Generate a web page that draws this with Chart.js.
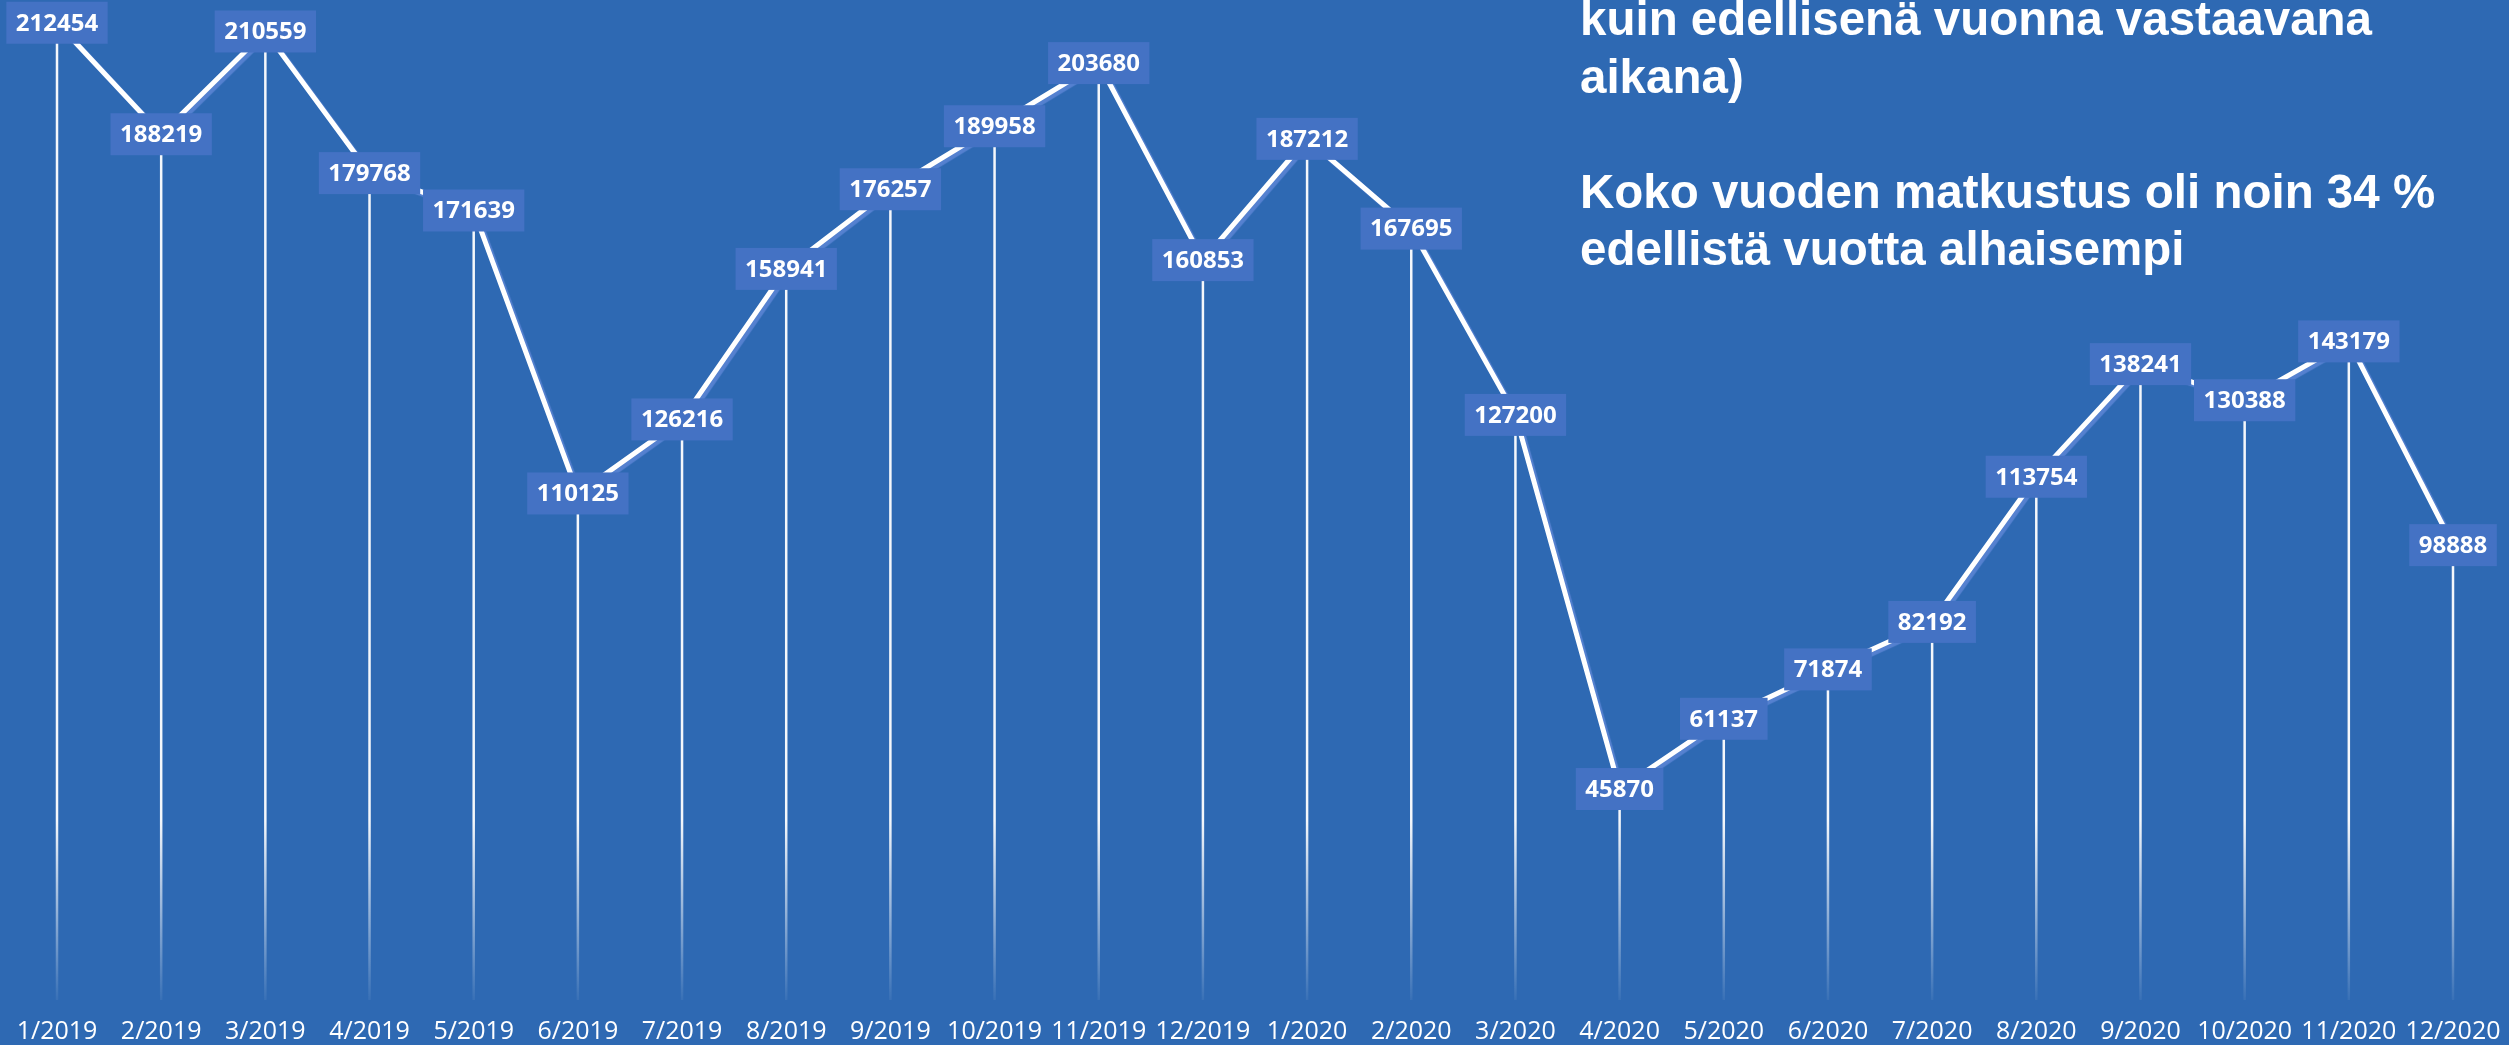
<!DOCTYPE html>
<html lang="fi">
<head>
  <meta charset="UTF-8">
  <title>Matkustajat kuukausittain 2019–2020</title>
  <script src="https://cdn.jsdelivr.net/npm/chart.js"></script>
  <style>
    html, body { margin: 0; padding: 0; overflow: hidden; background: #2E69B3; }
    .wrap { position: relative; width: 2509px; height: 1045px; }
    .note {
      position: absolute;
      left: 1580px;
      top: -10px;
      color: #fff;
      font-family: "Liberation Sans", Arial, sans-serif;
      font-weight: bold;
      font-size: 47.5px;
      line-height: 57.5px;
      white-space: pre;
    }
  </style>
</head>
<body>
  <div class="wrap">
    <canvas id="kaavio"></canvas>
    <div class="note">kuin edellisenä vuonna vastaavana
aikana)

Koko vuoden matkustus oli noin 34 %
edellistä vuotta alhaisempi</div>
  </div>

  <script>
    const kuukaudet = [
      "1/2019", "2/2019", "3/2019", "4/2019", "5/2019", "6/2019",
      "7/2019", "8/2019", "9/2019", "10/2019", "11/2019", "12/2019",
      "1/2020", "2/2020", "3/2020", "4/2020", "5/2020", "6/2020",
      "7/2020", "8/2020", "9/2020", "10/2020", "11/2020", "12/2020"
    ];
    const matkustajat = [
      212454, 188219, 210559, 179768, 171639, 110125,
      126216, 158941, 176257, 189958, 203680, 160853,
      187212, 167695, 127200, 45870, 61137, 71874,
      82192, 113754, 138241, 130388, 143179, 98888
    ];
    const yMin = 0;
    const yMax = 217400;

    // pystyviivat pisteistä alas (Excelin "drop lines")
    const pudotusviivat = {
      id: "pudotusviivat",
      beforeDatasetsDraw(chart) {
        const ctx = chart.ctx;
        const meta = chart.getDatasetMeta(0);
        const pohja = chart.scales.y.getPixelForValue(0);
        const grad = ctx.createLinearGradient(0, pohja - 180, 0, pohja);
        grad.addColorStop(0, "rgba(255,255,255,0.95)");
        grad.addColorStop(1, "rgba(255,255,255,0.05)");
        ctx.save();
        ctx.strokeStyle = grad;
        ctx.lineWidth = 2.5;
        meta.data.forEach(p => {
          ctx.beginPath();
          ctx.moveTo(p.x, p.y);
          ctx.lineTo(p.x, pohja);
          ctx.stroke();
        });
        ctx.restore();
      }
    };

    // viivan varjo
    const varjo = {
      id: "varjo",
      beforeDatasetDraw(chart) {
        const ctx = chart.ctx;
        ctx.save();
        ctx.shadowColor = "rgba(95,135,215,0.8)";
        ctx.shadowOffsetX = 3;
        ctx.shadowOffsetY = 3;
        ctx.shadowBlur = 1;
      },
      afterDatasetDraw(chart) {
        chart.ctx.restore();
      }
    };

    // arvolaatikot
    const arvot = {
      id: "arvot",
      afterDatasetsDraw(chart) {
        const ctx = chart.ctx;
        const meta = chart.getDatasetMeta(0);
        ctx.save();
        ctx.font = "bold 24px 'Open Sans', sans-serif";
        ctx.textAlign = "center";
        ctx.textBaseline = "middle";
        meta.data.forEach((p, i) => {
          const teksti = String(matkustajat[i]);
          const w = ctx.measureText(teksti).width + 19;
          const h = 42;
          ctx.fillStyle = "#4472C4";
          ctx.fillRect(p.x - w / 2, p.y - h / 2, w, h);
          ctx.fillStyle = "#ffffff";
          ctx.fillText(teksti, p.x, p.y + 1);
        });
        ctx.restore();
      }
    };

    new Chart(document.getElementById("kaavio"), {
      type: "line",
      data: {
        labels: kuukaudet,
        datasets: [{
          data: matkustajat,
          borderColor: "#ffffff",
          borderWidth: 5,
          pointRadius: 0,
          tension: 0,
          fill: false
        }]
      },
      options: {
        responsive: true,
        maintainAspectRatio: false,
        animation: false,
        layout: { padding: { left: 57, right: 56, top: 0, bottom: 0 } },
        plugins: {
          legend: { display: false },
          tooltip: { enabled: false }
        },
        scales: {
          x: {
            offset: false,
            grid: { display: false, drawTicks: false },
            border: { display: false },
            afterFit(scale) {
              scale.height = 45;
              scale.paddingLeft = 0;
              scale.paddingRight = 0;
            },
            ticks: {
              color: "#ffffff",
              font: { family: "'Open Sans', sans-serif", size: 25 },
              padding: 17,
              autoSkip: false,
              maxRotation: 0
            }
          },
          y: {
            display: false,
            min: yMin,
            max: yMax
          }
        }
      },
      plugins: [pudotusviivat, varjo, arvot]
    });
  </script>
</body>
</html>
